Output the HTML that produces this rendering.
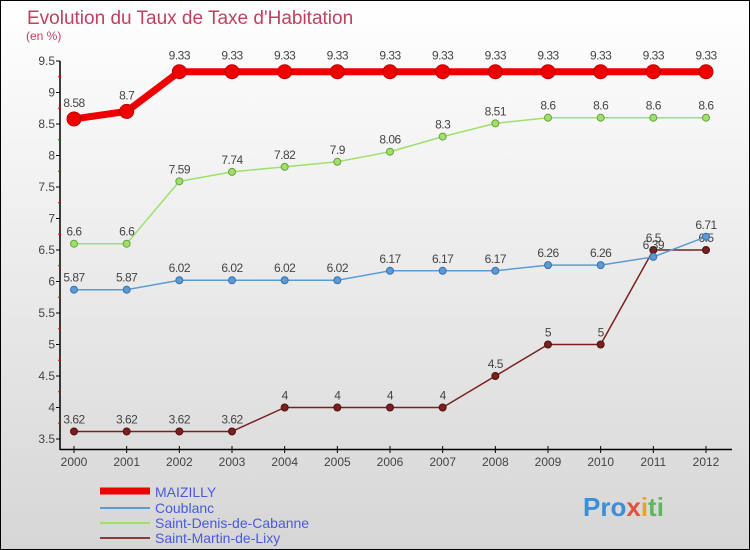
<!DOCTYPE html>
<html><head><meta charset="utf-8"><style>
body{margin:0}
svg{display:block;font-family:"Liberation Sans",sans-serif}
</style></head><body>
<svg id="c" width="750" height="550">
<defs><linearGradient id="bg" x1="0" y1="0" x2="0" y2="1"><stop offset="0" stop-color="#ffffff"/><stop offset="1" stop-color="#d6d6d6"/></linearGradient></defs>
<rect x="0.5" y="0.5" width="749" height="549" fill="url(#bg)" stroke="#000"/>
<text x="27" y="24" font-size="19" fill="#c0405e">Evolution du Taux de Taxe d'Habitation</text>
<text x="26" y="40" font-size="12" fill="#c0405e">(en %)</text>
<g id="axes"></g><g id="series"></g>
<g>
<line x1="100" y1="491" x2="150" y2="491" stroke="#ee0000" stroke-width="7"/>
<text x="155" y="497" font-size="14" fill="#4a5ad8">MAIZILLY</text>
<line x1="100" y1="508" x2="150" y2="508" stroke="#5b9bd5" stroke-width="2"/>
<text x="155" y="513" font-size="14" fill="#4a5ad8">Coublanc</text>
<line x1="100" y1="523" x2="150" y2="523" stroke="#9ee06a" stroke-width="2"/>
<text x="155" y="528" font-size="14" fill="#4a5ad8">Saint-Denis-de-Cabanne</text>
<line x1="100" y1="538" x2="150" y2="538" stroke="#8b3a3a" stroke-width="2"/>
<text x="155" y="543" font-size="14" fill="#4a5ad8">Saint-Martin-de-Lixy</text>
</g>
<text x="583" y="516" font-size="26" font-weight="bold"><tspan fill="#3a8fd8">Pro</tspan><tspan fill="#e0503a">x</tspan><tspan fill="#f0a020">i</tspan><tspan fill="#5cb85c">ti</tspan></text>
</svg>
<script>
const years=[2000,2001,2002,2003,2004,2005,2006,2007,2008,2009,2010,2011,2012];
const yTicks=[3.5,4,4.5,5,5.5,6,6.5,7,7.5,8,8.5,9,9.5];
const maizilly=[8.58,8.7,9.33,9.33,9.33,9.33,9.33,9.33,9.33,9.33,9.33,9.33,9.33];
const coublanc=[5.87,5.87,6.02,6.02,6.02,6.02,6.17,6.17,6.17,6.26,6.26,6.39,6.71];
const saintDenis=[6.6,6.6,7.59,7.74,7.82,7.9,8.06,8.3,8.51,8.6,8.6,8.6,8.6];
const saintMartin=[3.62,3.62,3.62,3.62,4,4,4,4,4.5,5,5,6.5,6.5];
const NS='http://www.w3.org/2000/svg';
const X=i=>74+i*(632/12);
const Y=v=>439-(v-3.5)*63;
function mk(p,t,a){const e=document.createElementNS(NS,t);for(const k in a)e.setAttribute(k,a[k]);p.appendChild(e);return e;}
const ax=document.getElementById('axes');
let e=mk(ax,'line',{x1:60,y1:61,x2:60,y2:450,stroke:'#000','stroke-width':1.5});


e=mk(ax,'line',{x1:60,y1:449.5,x2:732,y2:449.5,stroke:'#000','stroke-width':1.5});


yTicks.forEach((v,i)=>{
 mk(ax,'line',{x1:56,y1:Y(v),x2:60,y2:Y(v),stroke:'#000'});
 if(i<yTicks.length-1) mk(ax,'line',{x1:58,y1:Y(v+0.25),x2:61,y2:Y(v+0.25),stroke:'#e00'});
 const t=mk(ax,'text',{x:55,y:Y(v)+4,'font-size':12,fill:'#444','text-anchor':'end'});
 t.textContent=v;
 
 
});
years.forEach((y,i)=>{
 mk(ax,'line',{x1:X(i),y1:446,x2:X(i),y2:453,stroke:'#000'});
 const t=mk(ax,'text',{x:X(i),y:466,'font-size':12,fill:'#444','text-anchor':'middle'});
 t.textContent=y;
 
 
});
const sg=document.getElementById('series');
function draw(vals,color,w,r,name,dark){
 const g=mk(sg,'g',{});
 
 
 mk(g,'polyline',{points:vals.map((v,i)=>X(i)+','+Y(v)).join(' '),fill:'none',stroke:color,'stroke-width':w,'stroke-linejoin':'round'});
 vals.forEach((v,i)=>{
  const c=mk(g,'circle',{cx:X(i),cy:Y(v),r:r,fill:color,stroke:dark,'stroke-width':1});
  
  
  const t=mk(g,'text',{x:X(i),y:Y(v)-8-(r>5?4:0),'font-size':12,fill:'#444','text-anchor':'middle','letter-spacing':'-0.5'});
  t.textContent=v;
  
  
 });
}
draw(saintMartin,'#7a2020',1.5,3.5,'saint-martin-series','#501010');
draw(coublanc,'#5b9bd5',1.5,3.5,'coublanc-series','#3a70a8');
draw(saintDenis,'#9ee06a',1.5,3.5,'saint-denis-series','#6aa040');
draw(maizilly,'#ee0000',7,7,'maizilly-series','#c00000');
</script>
</body></html>
